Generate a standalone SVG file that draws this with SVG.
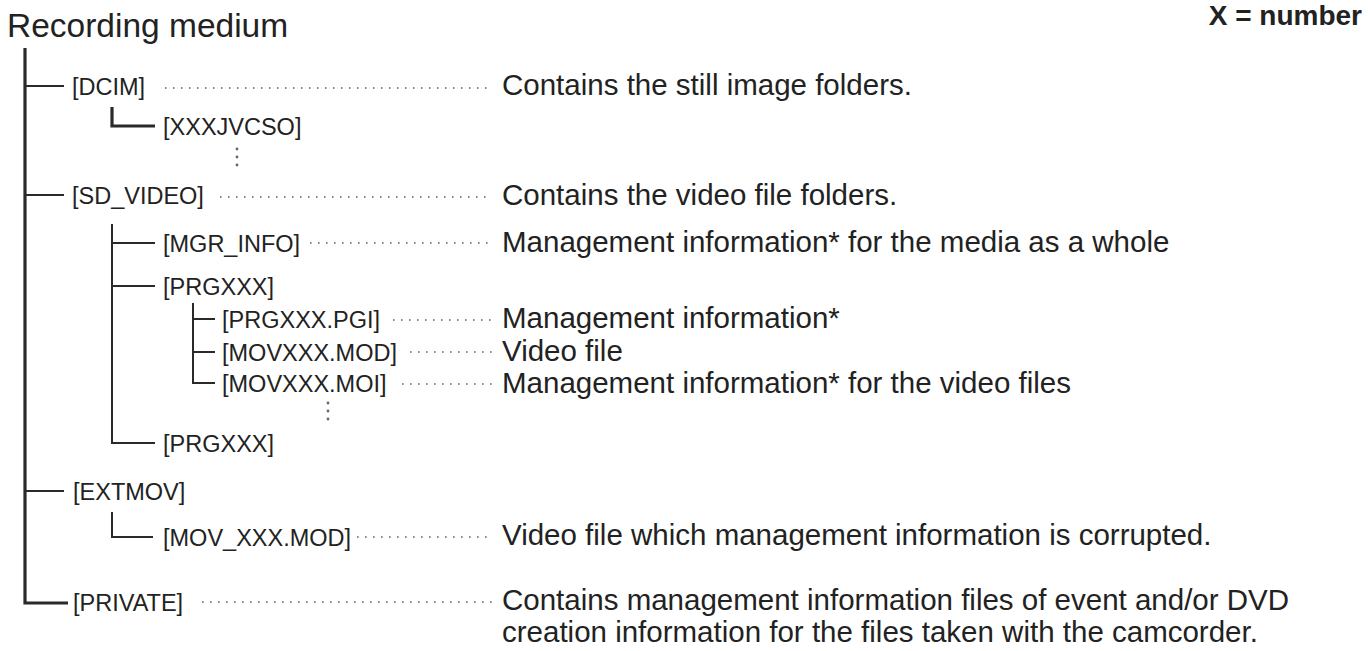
<svg xmlns="http://www.w3.org/2000/svg" width="1368" height="651" viewBox="0 0 1368 651">
<style>
.t{font-family:"Liberation Sans",Arial,sans-serif;fill:#222}
.lbl{font-size:23.5px}
.desc{font-size:29.5px}
.ln{stroke:#2a2a2a;stroke-width:2;fill:none}
.thick{stroke:#2a2a2a;stroke-width:3.2;fill:none}
.lead{stroke:#8a8a8a;stroke-width:2;stroke-dasharray:1.6 6.4;fill:none}
.vd{fill:#666}
</style>
<rect width="1368" height="651" fill="#ffffff"/>
<text class="t" x="7" y="37" font-size="33.5">Recording medium</text>
<text class="t" x="1362" y="25" font-size="28" font-weight="bold" text-anchor="end">X = number</text>

<g id="connectors">
  <path class="thick" d="M25,48 V603 H68"/>
  <path class="ln" d="M25,86 H64 M25,195 H64 M25,491 H64"/>
  <path class="thick" d="M112,107 V126 H155"/>
  <path class="ln" d="M112,224 V443 H155 M112,243 H155 M112,286 H155"/>
  <path class="ln" d="M193,303 V383 H215 M193,319 H215 M193,352 H215"/>
  <path class="ln" d="M112,512 V537 H153"/>
  <path class="lead" d="M165,88 H492 M220,197 H492 M310,243 H492 M393,320 H492 M410,352 H492 M402,384 H492 M357,537 H492 M202,602 H492"/>
  <circle class="vd" cx="237" cy="149" r="1.4"/>
  <circle class="vd" cx="237" cy="157" r="1.4"/>
  <circle class="vd" cx="237" cy="165" r="1.4"/>
  <circle class="vd" cx="328" cy="403" r="1.4"/>
  <circle class="vd" cx="328" cy="411" r="1.4"/>
  <circle class="vd" cx="328" cy="419" r="1.4"/>
</g>

<g id="dcim"><text class="t lbl" x="72" y="94.5">[DCIM]</text>
  <text class="t desc" x="502" y="95">Contains the still image folders.</text></g>
<g id="xxxjvcso"><text class="t lbl" x="163" y="134.5">[XXXJVCSO]</text></g>
<g id="sd_video"><text class="t lbl" x="72" y="203.5">[SD_VIDEO]</text>
  <text class="t desc" x="502" y="205">Contains the video file folders.</text></g>
<g id="mgr_info"><text class="t lbl" x="163" y="251.5">[MGR_INFO]</text>
  <text class="t desc" x="502" y="252">Management information* for the media as a whole</text></g>
<g id="prgxxx1"><text class="t lbl" x="163" y="294.5">[PRGXXX]</text></g>
<g id="prgxxx_pgi"><text class="t lbl" x="222" y="327.5">[PRGXXX.PGI]</text>
  <text class="t desc" x="502" y="328">Management information*</text></g>
<g id="movxxx_mod"><text class="t lbl" x="222" y="360.5">[MOVXXX.MOD]</text>
  <text class="t desc" x="502" y="361">Video file</text></g>
<g id="movxxx_moi"><text class="t lbl" x="222" y="391.5">[MOVXXX.MOI]</text>
  <text class="t desc" x="502" y="393">Management information* for the video files</text></g>
<g id="prgxxx2"><text class="t lbl" x="163" y="451.5">[PRGXXX]</text></g>
<g id="extmov"><text class="t lbl" x="73" y="499.5">[EXTMOV]</text></g>
<g id="mov_xxx_mod"><text class="t lbl" x="163" y="545.5">[MOV_XXX.MOD]</text>
  <text class="t desc" x="502" y="545">Video file which management information is corrupted.</text></g>
<g id="private"><text class="t lbl" x="73" y="611">[PRIVATE]</text>
  <text class="t desc" x="502" y="610">Contains management information files of event and/or DVD</text>
  <text class="t desc" x="502" y="642">creation information for the files taken with the camcorder.</text></g>
</svg>
